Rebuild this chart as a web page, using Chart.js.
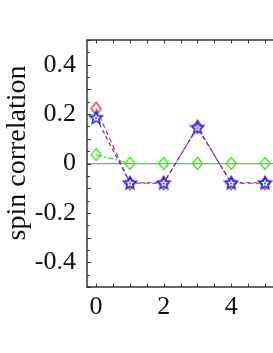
<!DOCTYPE html>
<html>
<head>
<meta charset="utf-8">
<script src="https://cdn.jsdelivr.net/npm/chart.js@4/dist/chart.umd.min.js"></script>
<style>
  html, body { margin: 0; padding: 0; background: #fff; overflow: hidden; }
  #wrap { width: 273px; height: 353px; overflow: hidden; }
</style>
</head>
<body>
<div id="wrap"><canvas id="chart" width="304" height="353"></canvas></div>
<script>
const steps = [0, 1, 2, 3, 4, 5];
const redValues = [0.222, -0.08, -0.08, 0.148, -0.08, -0.08];
const blueValues = [0.186, -0.078, -0.078, 0.146, -0.078, -0.078];
const greenValues = [0.036, 0, 0, 0, 0, 0];
const xTickLabels = [0, 2, 4];
const yTickLabels = [-0.4, -0.2, 0, 0.2, 0.4];
const yTitle = 'spin correlation';

const serif = "'Liberation Serif', 'DejaVu Serif', serif";

// marker images
const makeDiamond = (color, w, h) => {
  const c = document.createElement('canvas');
  c.width = w + 3;
  c.height = h + 3;
  const ctx = c.getContext('2d');
  const cx = c.width / 2, cy = c.height / 2;
  ctx.strokeStyle = color;
  ctx.lineWidth = 1.3;
  ctx.beginPath();
  ctx.moveTo(cx, cy - h / 2);
  ctx.lineTo(cx + w / 2, cy);
  ctx.lineTo(cx, cy + h / 2);
  ctx.lineTo(cx - w / 2, cy);
  ctx.closePath();
  ctx.stroke();
  return c;
};

const makeStar = (color, r) => {
  const size = Math.ceil(r * 2 + 3);
  const c = document.createElement('canvas');
  c.width = size;
  c.height = size;
  const ctx = c.getContext('2d');
  const cx = size / 2, cy = size / 2 + 0.5;
  ctx.beginPath();
  for (let i = 0; i < 10; i++) {
    const rad = i % 2 === 0 ? r : r * 0.45;
    const a = -Math.PI / 2 + i * Math.PI / 5;
    const px = cx + rad * Math.cos(a), py = cy + rad * Math.sin(a);
    if (i === 0) ctx.moveTo(px, py); else ctx.lineTo(px, py);
  }
  ctx.closePath();
  ctx.fillStyle = '#ffffff';
  ctx.fill();
  ctx.strokeStyle = color;
  ctx.lineWidth = 1.6;
  ctx.stroke();
  ctx.fillStyle = color;
  ctx.beginPath();
  ctx.arc(cx, cy, 1, 0, Math.PI * 2);
  ctx.fill();
  return c;
};

const toPoints = values => steps.map((x, i) => ({ x: x, y: values[i] }));

// inward tick marks and frame
const framePlugin = {
  id: 'frame',
  afterDraw(chart) {
    const { ctx, chartArea: a, scales } = chart;
    const xs = scales.x, ys = scales.y;
    ctx.save();
    ctx.strokeStyle = '#333';
    ctx.lineWidth = 1.5;
    ctx.strokeRect(a.left, a.top, a.right - a.left, a.bottom - a.top);
    ctx.lineWidth = 1;
    ctx.beginPath();
    for (let i = -10; i <= 10; i++) {
      const y = Math.round(ys.getPixelForValue(i * 0.05)) + 0.5;
      const len = i % 2 === 0 ? 4 : 3;
      ctx.moveTo(a.left, y);
      ctx.lineTo(a.left + len, y);
    }
    for (let i = 0; i <= 12; i++) {
      const x = Math.round(xs.getPixelForValue(i * 0.5)) + 0.5;
      ctx.moveTo(x, a.top);
      ctx.lineTo(x, a.top + 3.5);
      ctx.moveTo(x, a.bottom);
      ctx.lineTo(x, a.bottom - 3.5);
    }
    ctx.stroke();

    // y axis title
    ctx.translate(25, 153);
    ctx.rotate(-Math.PI / 2);
    ctx.fillStyle = '#111';
    ctx.font = `28px ${serif}`;
    ctx.textAlign = 'center';
    ctx.textBaseline = 'alphabetic';
    ctx.fillText(yTitle, 0, 0);
    ctx.restore();
  },
};

new Chart(document.getElementById('chart'), {
  type: 'line',
  data: {
    datasets: [{
      data: toPoints(blueValues),
      borderColor: '#2a3cff',
      borderWidth: 1.2,
      borderDash: [4, 3],
      pointStyle: makeStar('#1d2cf0', 6.5),
      fill: false,
    }, {
      data: toPoints(redValues),
      borderColor: '#ff2a2a',
      borderWidth: 1.2,
      borderDash: [5, 3],
      pointStyle: makeDiamond('#ff2020', 10, 13),
      fill: false,
    }, {
      data: toPoints(greenValues),
      borderColor: '#44e024',
      borderWidth: 1.2,
      borderDash: [6, 2, 2, 2],
      pointStyle: makeDiamond('#3ee01a', 10, 12),
      fill: false,
    }],
  },
  options: {
    responsive: false,
    devicePixelRatio: 1,
    animation: false,
    layout: { padding: { top: 40, left: 0, right: 0, bottom: 0 } },
    plugins: {
      legend: { display: false },
      tooltip: { enabled: false },
    },
    scales: {
      x: {
        type: 'linear',
        min: -0.27,
        max: 6,
        border: { display: false },
        grid: { display: false, drawTicks: false },
        afterBuildTicks: s => { s.ticks = xTickLabels.map(v => ({ value: v })); },
        afterFit: s => { s.height = 66; },
        ticks: {
          padding: 5,
          maxRotation: 0,
          color: '#111',
          font: { family: serif, size: 26 },
        },
      },
      y: {
        min: -0.5,
        max: 0.5,
        border: { display: false },
        grid: {
          drawTicks: false,
          color: c => c.tick && c.tick.value === 0 ? '#9a9a9a' : 'rgba(0,0,0,0)',
          lineWidth: 1.2,
        },
        afterBuildTicks: s => { s.ticks = yTickLabels.map(v => ({ value: v })); },
        afterFit: s => { s.width = 87; },
        ticks: {
          padding: 11,
          color: '#111',
          font: { family: serif, size: 26 },
          callback: v => v === 0 ? '0' : v.toFixed(1),
        },
      },
    },
  },
  plugins: [framePlugin],
});
</script>
</body>
</html>
